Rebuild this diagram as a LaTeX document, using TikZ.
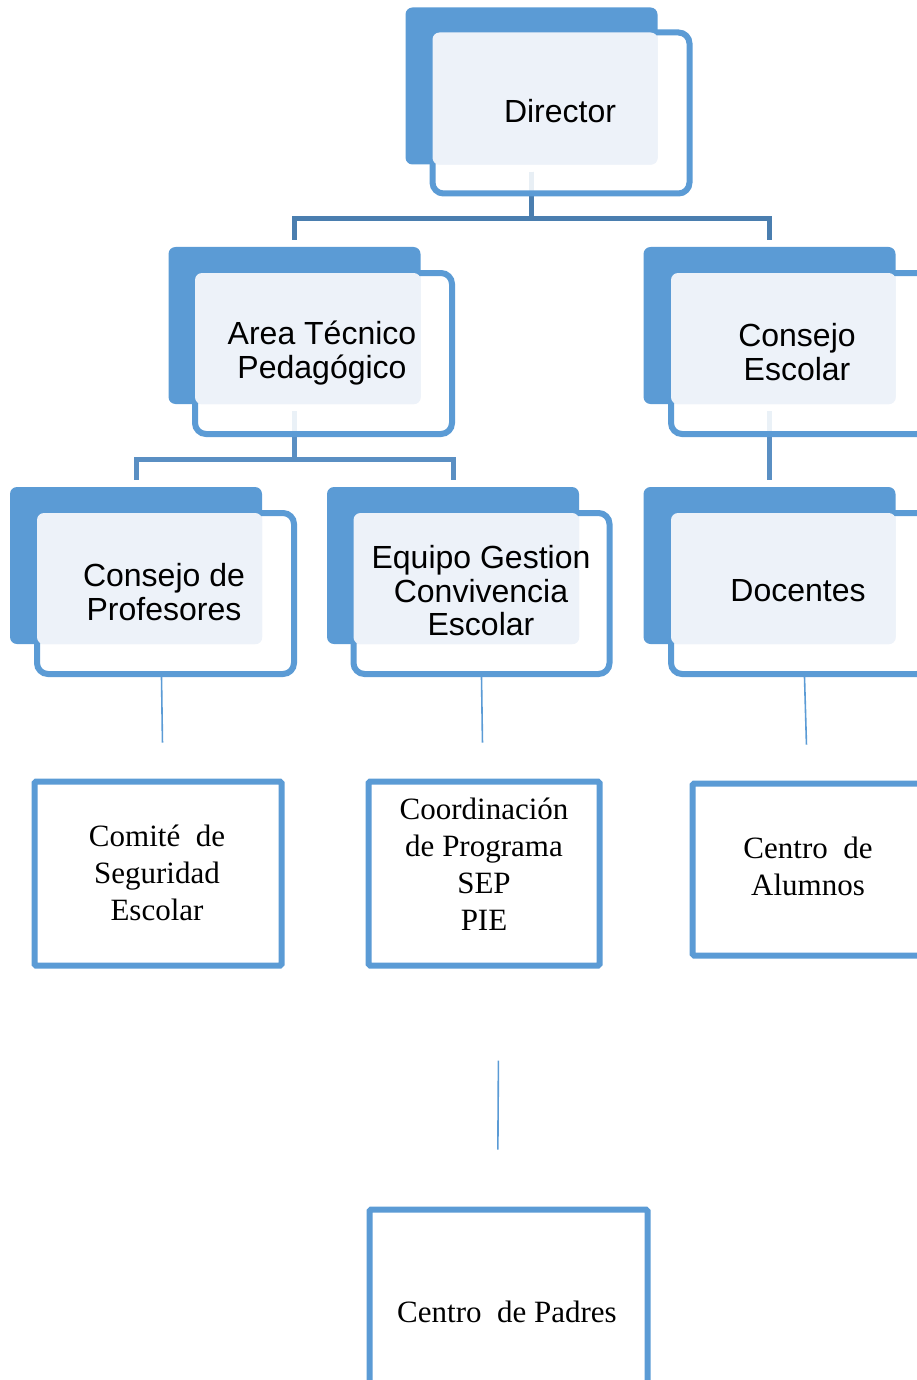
\documentclass[tikz,border=0pt]{standalone}
\usepackage{fontspec}
\setmainfont{Liberation Serif}
\setsansfont{Liberation Sans}
\usepackage{tikz}
\usetikzlibrary{arrows.meta, shapes}

\definecolor{accent}{HTML}{5B9BD5}
\definecolor{topbus}{HTML}{4A7EAF}
\definecolor{midbus}{HTML}{5A8FC3}
\definecolor{pale}{HTML}{EDF2F9}

\tikzset{
  backbox/.style={rectangle, fill=accent, rounded corners=7pt, inner sep=0pt,
    minimum width=252pt, minimum height=157pt},
  framebox/.style={rectangle, draw=accent, line width=6pt, fill=white, fill opacity=0.88,
    rounded corners=11pt, inner sep=0pt, minimum width=257pt, minimum height=161pt},
  unitlabel/.style={align=center, inner sep=0pt, font=\fontsize{32}{33.5}\selectfont\sffamily},
  plainbox/.style={rectangle, draw=accent, line width=6pt, fill=white,
    rounded corners=1.5pt, inner sep=0pt},
  plainlabel/.style={align=center, inner sep=0pt, font=\fontsize{31}{37}\selectfont}
}

\begin{document}
\begin{tikzpicture}[x=1pt, y=-1pt]
\useasboundingbox (0,0) rectangle (917,1380);
\clip (0,0) rectangle (917,1380);

% back shapes
\begin{scope}[every node/.style={backbox}]
  \node (dirB) at (531.5,86) {};
  \node (atpB) at (294.5,325.5) {};
  \node (ceB) at (769.5,325.5) {};
  \node (cpB) at (136,565.5) {};
  \node (egB) at (453,565.5) {};
  \node (docB) at (769.5,565.5) {};
\end{scope}

% connectors
\begin{scope}[line width=5pt, shorten <=7pt, shorten >=7pt]
  \draw[draw=topbus] (dirB.south) -- ++(0,54) -| (atpB.north);
  \draw[draw=topbus] (dirB.south) -- ++(0,54) -| (ceB.north);
  \draw[draw=midbus] (atpB.south) -- ++(0,55) -| (cpB.north);
  \draw[draw=midbus] (atpB.south) -- ++(0,55) -| (egB.north);
  \draw[draw=midbus] (ceB.south) -- (docB.north);
\end{scope}

% framed shapes
\begin{scope}[every node/.style={framebox}]
  \node (dirO) at (561,113) {};
  \node (atpO) at (323.5,353.5) {};
  \node (ceO) at (799.5,353.5) {};
  \node (cpO) at (165.5,593.5) {};
  \node[minimum width=256pt] (egO) at (481.5,593.5) {};
  \node (docO) at (799.5,593.5) {};
\end{scope}

% pale fills
\begin{scope}[fill=pale, rounded corners=7pt]
  \fill ([shift={(3,3)}]dirO.north west) rectangle (dirB.south east);
  \fill ([shift={(3,3)}]atpO.north west) rectangle (atpB.south east);
  \fill ([shift={(3,3)}]ceO.north west) rectangle (ceB.south east);
  \fill ([shift={(3,3)}]cpO.north west) rectangle (cpB.south east);
  \fill ([shift={(3,3)}]egO.north west) rectangle (egB.south east);
  \fill ([shift={(3,3)}]docO.north west) rectangle (docB.south east);
\end{scope}

\begin{scope}[every node/.style={unitlabel}]
  \node (dirT) at (560,111) {Director};
  \node (atpT) at (322,353) {Area Técnico\\Pedagógico};
  \node (ceT) at (797,352) {Consejo\\Escolar};
  \node (cpT) at (164,592) {Consejo de\\Profesores};
  \node (egT) at (481,591) {Equipo Gestion\\Convivencia\\Escolar};
  \node (docT) at (798,591) {Docentes};
\end{scope}

% lower boxes
\begin{scope}[every node/.style={plainbox}]
  \node[minimum width=247pt, minimum height=184pt] (cmO) at (158,873.5) {};
  \node[minimum width=231pt, minimum height=184pt] (coO) at (484,873.5) {};
  \node[minimum width=240pt, minimum height=172pt] (alO) at (812.5,869.5) {};
  \node[minimum width=278pt, minimum height=205pt] (paO) at (508.5,1312) {};
\end{scope}

\begin{scope}[every node/.style={plainlabel}]
  \node at (157,873) {Comité\enspace de\\Seguridad\\Escolar};
  \node at (484,864) {Coordinación\\de Programa\\SEP\\ PIE};
  \node at (808,866) {Centro\enspace de\\Alumnos};
  \node at (507,1312) {Centro\enspace de Padres};
\end{scope}

% thin links
\begin{scope}[draw=accent, line width=1.6pt]
  \draw[shorten >=36pt] ([xshift=-4]cpO.south) -- ([xshift=5]cmO.north);
  \draw[shorten >=36pt] (egO.south) -- ([xshift=-1]coO.north);
  \draw[shorten >=36pt] ([xshift=5]docO.south) -- ([xshift=-5]alO.north);
  \draw[shorten <=92pt, shorten >=57pt] ([xshift=15]coO.south) -- ([xshift=-11]paO.north);
\end{scope}
\end{tikzpicture}
\end{document}
